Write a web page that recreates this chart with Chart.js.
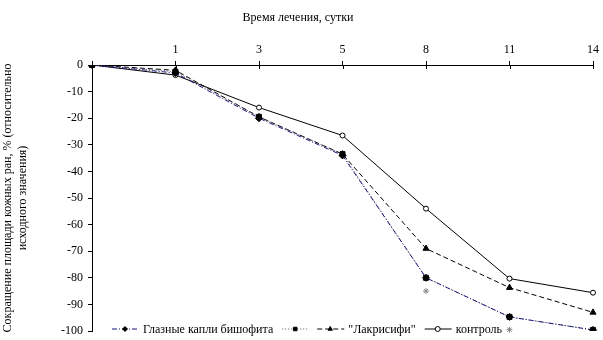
<!DOCTYPE html>
<html>
<head>
<meta charset="utf-8">
<style>
  html, body { margin: 0; padding: 0; background: #fff; }
</style>
</head>
<body>
<canvas id="c" width="603" height="340"></canvas>
<script src="https://cdn.jsdelivr.net/npm/chart.js@4.4.1/dist/chart.umd.min.js"></script>
<script>
// сутки лечения
var days = ["0", "1", "3", "5", "8", "11", "14"];
var dayLabels = ["", "1", "3", "5", "8", "11", "14"];
// сокращение площади ран, %
var bishofit = [0, -3, -20, -34, -80, -94.7, -99.6];
var squares = [0, -2.5, -19.5, -33.5, -80, -94.7, -99.6];
var lakrisifi = [0, -2, -19.5, -33.5, -69, -83.7, -93];
var kontrol = [0, -3.8, -16, -26.5, -54, -80.3, -85.6];
// значимые отличия (*)
var stars = [null, null, null, null, -85, -99.5, -103];

var xTitle = 'Время лечения, сутки';
var serif = '"Liberation Serif", "Times New Roman", serif';

// легенда внизу поверх области графика, заголовок оси X, засечки
var extras = {
  id: 'extras',
  afterDraw: function (chart) {
    var ctx = chart.ctx;
    var y = chart.chartArea.bottom - 2;
    var x = 112;
    ctx.save();
    ctx.font = '12px ' + serif;
    ctx.textBaseline = 'middle';
    chart.data.datasets.forEach(function (ds) {
      if (ds.inLegend === false) return;
      ctx.save();
      ctx.strokeStyle = ds.borderColor;
      ctx.lineWidth = 1;
      ctx.setLineDash(ds.borderDash || []);
      ctx.beginPath();
      ctx.moveTo(x, y);
      ctx.lineTo(x + 27, y);
      ctx.stroke();
      ctx.restore();
      ctx.fillStyle = ds.pointBackgroundColor;
      ctx.strokeStyle = ds.pointBorderColor;
      ctx.lineWidth = 1;
      Chart.helpers.drawPoint(ctx, { pointStyle: ds.pointStyle, radius: 2.5, borderWidth: 1, rotation: 0 }, x + 13, y);
      ctx.fillStyle = '#000';
      if (ds.label) {
        ctx.fillText(ds.label, x + 31, y + 1);
        x += 31 + ctx.measureText(ds.label).width + 9;
      } else {
        x += 35;
      }
    });

    ctx.textAlign = 'center';
    ctx.fillText(xTitle, 298, 18);
    ctx.restore();

    var xs = chart.scales.x;
    ctx.save();
    ctx.strokeStyle = '#000';
    ctx.lineWidth = 1;
    for (var i = 1; i < days.length; i++) {
      var px = Math.round(xs.getPixelForTick(i)) + 0.5;
      ctx.beginPath();
      ctx.moveTo(px, chart.chartArea.top);
      ctx.lineTo(px, chart.chartArea.top + 4);
      ctx.stroke();
    }
    ctx.restore();
  }
};

new Chart(document.getElementById('c'), {
  type: 'line',
  data: {
    labels: days,
    datasets: [{
      label: 'Глазные капли бишофита',
      data: bishofit,
      borderColor: '#141480',
      borderWidth: 1,
      borderDash: [5, 2, 1, 2],
      pointStyle: 'rectRot',
      pointRadius: 3.5,
      pointBackgroundColor: '#000',
      pointBorderColor: '#000',
      order: 1
    }, {
      label: '',
      data: squares,
      borderColor: '#555',
      borderWidth: 1,
      borderDash: [1, 2],
      pointStyle: 'rect',
      pointRadius: 3.5,
      pointBackgroundColor: '#000',
      pointBorderColor: '#000',
      order: 2
    }, {
      label: '"Лакрисифи"',
      data: lakrisifi,
      borderColor: '#000',
      borderWidth: 1,
      borderDash: [5, 3],
      pointStyle: 'triangle',
      pointRadius: 3.5,
      pointBackgroundColor: '#000',
      pointBorderColor: '#000',
      order: 3
    }, {
      label: 'контроль',
      data: kontrol,
      borderColor: '#000',
      borderWidth: 1,
      pointStyle: 'circle',
      pointRadius: 2.5,
      pointBackgroundColor: '#fff',
      pointBorderColor: '#000',
      order: 4
    }, {
      label: '*',
      data: stars,
      inLegend: false,
      showLine: false,
      clip: false,
      pointStyle: 'star',
      pointRadius: 3,
      borderColor: '#888',
      pointBorderColor: '#888',
      pointBackgroundColor: '#888',
      borderWidth: 1
    }]
  },
  options: {
    responsive: false,
    devicePixelRatio: 1,
    animation: false,
    elements: { line: { tension: 0 } },
    layout: { padding: { left: 0, right: 6, top: 6, bottom: 0 } },
    plugins: {
      legend: { display: false },
      tooltip: { enabled: false }
    },
    scales: {
      x: {
        position: 'top',
        offset: false,
        afterFit: function (s) { s.height = 59; },
        grid: { drawOnChartArea: false, drawTicks: true, tickLength: 4, color: '#000' },
        border: { color: '#000', width: 1 },
        ticks: {
          color: '#000',
          font: { family: serif, size: 12 },
          padding: 4,
          maxRotation: 0,
          autoSkip: false,
          callback: function (v, i) { return dayLabels[i]; }
        }
      },
      y: {
        min: -100,
        max: 0,
        afterFit: function (s) { s.width = 92; s.paddingBottom = 9; },
        grid: { drawOnChartArea: false, drawTicks: true, tickLength: 4, color: '#000' },
        border: { color: '#000', width: 1 },
        ticks: {
          stepSize: 10,
          color: '#000',
          font: { family: serif, size: 12 },
          padding: 5
        },
        title: {
          display: true,
          text: ['Сокращение площади кожных ран, % (относительно', 'исходного значения)'],
          color: '#000',
          font: { family: serif, size: 12, lineHeight: 1.2 },
          padding: { top: 1, bottom: 0 }
        }
      }
    }
  },
  plugins: [extras]
});
</script>
</body>
</html>
